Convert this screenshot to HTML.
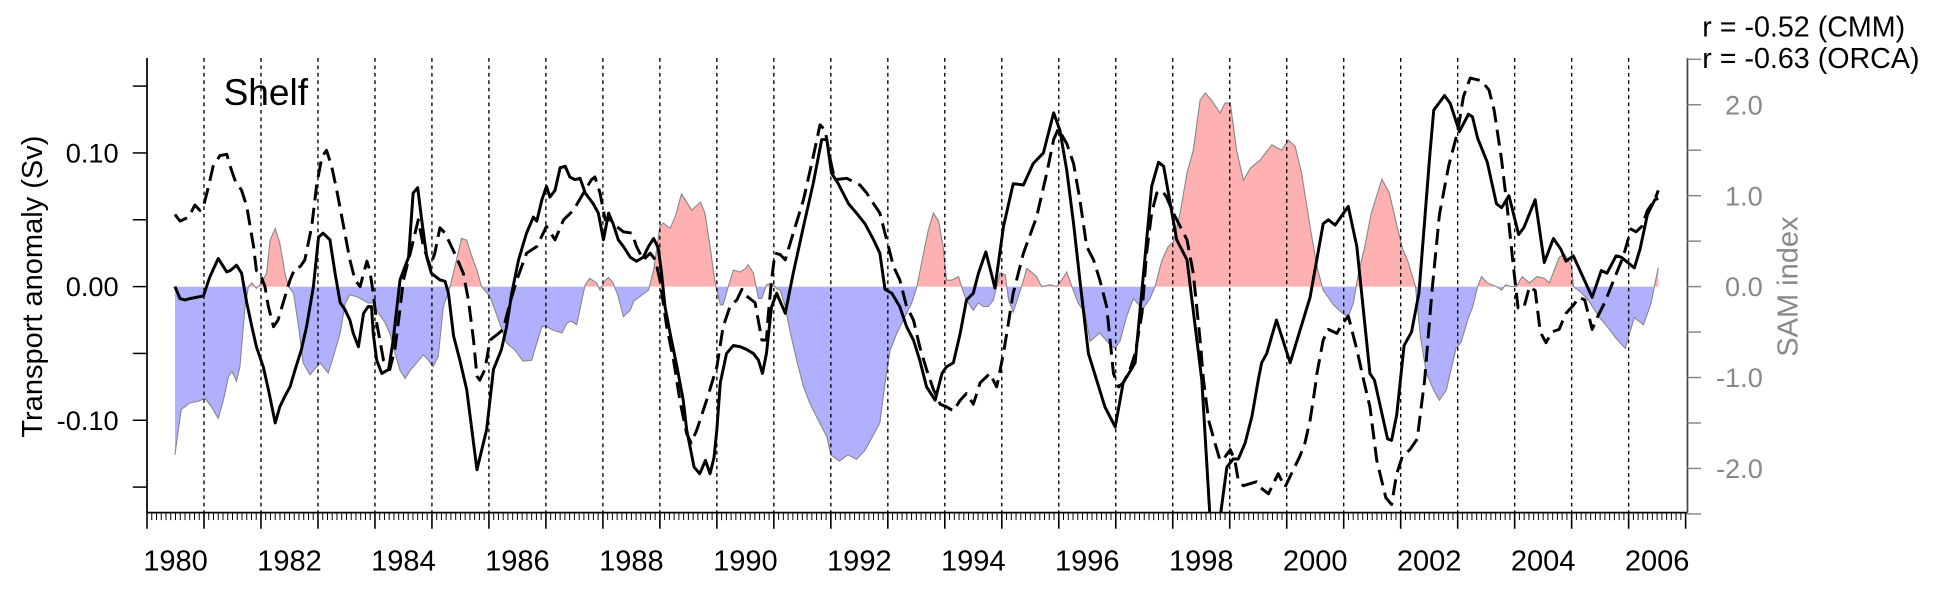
<!DOCTYPE html>
<html><head><meta charset="utf-8"><title>Shelf transport vs SAM</title>
<style>html,body{margin:0;padding:0;background:#fff;}svg{display:block;font-family:"Liberation Sans",sans-serif;}</style>
</head><body>
<svg id="chart" width="1937" height="590" viewBox="0 0 1568 477.6" preserveAspectRatio="none" xmlns="http://www.w3.org/2000/svg">
<defs>
<clipPath id="plotClip"><rect x="119" y="47" width="1247" height="368"/></clipPath>
<clipPath id="posClip"><rect x="119" y="0" width="1247" height="232"/></clipPath>
<clipPath id="negClip"><rect x="119" y="232" width="1247" height="200"/></clipPath>
</defs>
<g id="samLayer" clip-path="url(#plotClip)"></g>
<g id="gridLayer"></g>
<g id="lineLayer" clip-path="url(#plotClip)"></g>
<g id="axisLayer"></g>
<text x="181" y="85" font-size="30">Shelf</text>
<text transform="translate(34,232) rotate(-90)" text-anchor="middle" font-size="23.5">Transport anomaly (Sv)</text>
<text transform="translate(1455,232) rotate(-90)" text-anchor="middle" font-size="23.5" fill="#888">SAM index</text>
<text x="1378" y="29.5" font-size="23.2">r = -0.52 (CMM)</text>
<text x="1378" y="55" font-size="23.2">r = -0.63 (ORCA)</text>
</svg>
<script>
const cmmT=[1980.49,1980.58,1980.67,1980.75,1980.99,1981.10,1981.25,1981.40,1981.46,1981.57,1981.66,1981.75,1981.84,1981.92,1982.04,1982.13,1982.25,1982.33,1982.42,1982.51,1982.60,1982.71,1982.80,1982.92,1983.01,1983.09,1983.21,1983.30,1983.39,1983.47,1983.56,1983.62,1983.71,1983.80,1983.88,1983.94,1983.97,1984.03,1984.12,1984.24,1984.32,1984.44,1984.59,1984.67,1984.75,1984.82,1984.91,1984.99,1985.14,1985.23,1985.29,1985.38,1985.49,1985.61,1985.70,1985.79,1985.96,1986.08,1986.22,1986.31,1986.40,1986.52,1986.66,1986.78,1986.84,1986.93,1987.01,1987.07,1987.16,1987.25,1987.34,1987.42,1987.51,1987.60,1987.69,1987.83,1987.92,1988.01,1988.10,1988.18,1988.27,1988.36,1988.48,1988.59,1988.71,1988.80,1988.89,1988.97,1989.03,1989.09,1989.18,1989.30,1989.41,1989.47,1989.6,1989.7,1989.8,1989.88,1989.95,1990.00,1990.06,1990.17,1990.29,1990.41,1990.52,1990.64,1990.73,1990.80,1990.87,1990.96,1991.05,1991.20,1991.34,1991.52,1991.69,1991.84,1991.93,1992.01,1992.13,1992.31,1992.45,1992.60,1992.75,1992.86,1992.95,1993.07,1993.21,1993.33,1993.45,1993.56,1993.68,1993.83,1993.95,1994.03,1994.15,1994.27,1994.38,1994.50,1994.59,1994.72,1994.88,1995.03,1995.20,1995.38,1995.55,1995.73,1995.91,1996.02,1996.14,1996.26,1996.37,1996.52,1996.81,1996.99,1997.13,1997.34,1997.63,1997.75,1997.84,1998.07,1998.25,1998.51,1998.65,1998.72,1998.84,1998.95,1999.06,1999.15,1999.27,1999.39,1999.50,1999.56,1999.65,1999.82,2000.06,2000.41,2000.64,2000.73,2000.85,2001.08,2001.23,2001.46,2001.54,2001.77,2001.84,2001.93,2002.06,2002.19,2002.32,2002.51,2002.58,2002.77,2002.87,2003.03,2003.19,2003.26,2003.35,2003.52,2003.68,2003.77,2003.90,2004.07,2004.16,2004.36,2004.52,2004.68,2004.81,2004.90,2005.03,2005.36,2005.52,2005.62,2005.78,2005.87,2006.10,2006.20,2006.33,2006.46,2006.52];
const cmmV=[0.000,-0.009,-0.010,-0.009,-0.007,0.007,0.021,0.011,0.012,0.016,0.010,-0.012,-0.030,-0.045,-0.060,-0.077,-0.102,-0.090,-0.082,-0.075,-0.062,-0.047,-0.030,0.000,0.037,0.040,0.035,0.010,-0.012,-0.017,-0.025,-0.035,-0.045,-0.020,-0.015,-0.015,-0.035,-0.055,-0.065,-0.062,-0.040,0.005,0.022,0.070,0.074,0.050,0.022,0.010,0.005,0.004,-0.005,-0.037,-0.055,-0.077,-0.107,-0.137,-0.107,-0.062,-0.047,-0.030,-0.005,0.020,0.040,0.052,0.049,0.065,0.075,0.067,0.072,0.089,0.090,0.082,0.080,0.081,0.070,0.062,0.055,0.035,0.055,0.047,0.035,0.030,0.022,0.019,0.022,0.030,0.036,0.029,0.010,-0.015,-0.035,-0.060,-0.085,-0.107,-0.135,-0.140,-0.130,-0.140,-0.128,-0.107,-0.072,-0.050,-0.044,-0.045,-0.047,-0.050,-0.055,-0.065,-0.050,-0.015,-0.005,-0.020,0.010,0.045,0.077,0.110,0.110,0.085,0.077,0.062,0.055,0.047,0.035,0.025,-0.002,-0.005,-0.015,-0.030,-0.040,-0.055,-0.075,-0.085,-0.065,-0.060,-0.057,-0.035,-0.010,-0.005,0.010,0.026,-0.001,0.045,0.077,0.076,0.092,0.100,0.130,0.117,0.087,0.047,0.005,-0.050,-0.090,-0.105,-0.072,-0.057,0.075,0.093,0.090,0.035,0.020,-0.070,-0.170,-0.190,-0.170,-0.135,-0.129,-0.129,-0.117,-0.097,-0.070,-0.057,-0.050,-0.025,-0.057,-0.008,0.047,0.050,0.046,0.060,0.030,-0.065,-0.070,-0.114,-0.115,-0.096,-0.044,-0.034,-0.005,0.098,0.132,0.143,0.137,0.116,0.129,0.127,0.111,0.093,0.062,0.059,0.068,0.039,0.044,0.065,0.018,0.036,0.028,0.019,0.023,-0.008,0.012,0.010,0.023,0.022,0.014,0.028,0.054,0.065,0.066];
const orcaT=[1980.49,1980.58,1980.73,1980.84,1980.93,1980.99,1981.08,1981.16,1981.28,1981.40,1981.46,1981.54,1981.66,1981.75,1981.87,1981.92,1981.98,1982.07,1982.13,1982.22,1982.30,1982.39,1982.51,1982.60,1982.69,1982.77,1982.89,1982.98,1983.07,1983.15,1983.24,1983.33,1983.45,1983.56,1983.65,1983.74,1983.80,1983.86,1983.91,1983.97,1984.03,1984.15,1984.26,1984.35,1984.41,1984.50,1984.62,1984.76,1984.85,1984.97,1985.05,1985.14,1985.23,1985.32,1985.43,1985.55,1985.64,1985.73,1985.79,1985.84,1985.93,1986.02,1986.17,1986.25,1986.37,1986.49,1986.66,1986.84,1987.01,1987.16,1987.31,1987.48,1987.66,1987.80,1987.86,1987.95,1988.04,1988.13,1988.24,1988.36,1988.51,1988.59,1988.71,1988.83,1988.92,1989.00,1989.12,1989.24,1989.35,1989.47,1989.55,1989.65,1989.82,1990.00,1990.11,1990.23,1990.35,1990.44,1990.52,1990.67,1990.79,1990.87,1990.90,1990.96,1991.02,1991.11,1991.20,1991.34,1991.52,1991.69,1991.81,1991.90,1991.99,1992.07,1992.28,1992.51,1992.63,1992.75,1992.86,1992.98,1993.10,1993.21,1993.33,1993.45,1993.56,1993.68,1993.80,1993.92,1994.03,1994.15,1994.27,1994.38,1994.50,1994.62,1994.79,1994.91,1995.03,1995.20,1995.38,1995.61,1995.79,1995.91,1995.99,1996.14,1996.26,1996.37,1996.49,1996.61,1996.72,1996.84,1996.96,1997.05,1997.13,1997.25,1997.34,1997.46,1997.54,1997.63,1997.72,1997.81,1997.89,1998.01,1998.13,1998.25,1998.36,1998.48,1998.54,1998.63,1998.74,1998.83,1998.89,1999.01,1999.09,1999.15,1999.24,1999.39,1999.47,1999.53,1999.68,1999.77,1999.85,1999.97,2000.06,2000.23,2000.32,2000.41,2000.50,2000.53,2000.64,2000.73,2000.88,2000.99,2001.08,2001.23,2001.35,2001.46,2001.58,2001.74,2001.84,2001.93,2002.03,2002.16,2002.29,2002.42,2002.55,2002.68,2002.84,2003.00,2003.10,2003.22,2003.42,2003.55,2003.64,2003.77,2003.87,2003.97,2004.06,2004.16,2004.26,2004.36,2004.45,2004.55,2004.65,2004.78,2004.90,2005.03,2005.13,2005.23,2005.36,2005.45,2005.58,2005.74,2005.91,2006.04,2006.13,2006.23,2006.33,2006.46,2006.52];
const orcaV=[0.054,0.049,0.052,0.061,0.057,0.060,0.075,0.090,0.098,0.099,0.090,0.080,0.072,0.060,0.030,0.012,0.010,0.000,-0.015,-0.030,-0.025,-0.012,0.005,0.014,0.015,0.020,0.045,0.077,0.097,0.102,0.090,0.072,0.045,0.020,0.005,0.000,0.010,0.019,0.012,-0.005,-0.027,-0.055,-0.062,-0.047,-0.027,0.005,0.025,0.050,0.030,0.015,0.025,0.044,0.040,0.032,0.022,0.010,-0.010,-0.040,-0.067,-0.070,-0.062,-0.040,-0.035,-0.032,-0.012,0.005,0.025,0.030,0.045,0.035,0.050,0.057,0.070,0.080,0.082,0.070,0.050,0.050,0.045,0.041,0.040,0.030,0.020,0.025,0.020,0.005,-0.030,-0.055,-0.085,-0.110,-0.117,-0.107,-0.085,-0.060,-0.030,-0.015,-0.010,-0.002,-0.007,-0.012,-0.040,-0.040,-0.022,0.005,0.025,0.024,0.020,0.040,0.065,0.097,0.121,0.117,0.095,0.080,0.081,0.076,0.070,0.062,0.055,0.035,0.015,0.005,-0.015,-0.025,-0.045,-0.062,-0.077,-0.088,-0.090,-0.093,-0.085,-0.080,-0.088,-0.072,-0.065,-0.075,-0.050,-0.005,0.025,0.052,0.085,0.110,0.118,0.107,0.092,0.065,0.030,0.020,0.005,-0.015,-0.065,-0.075,-0.072,-0.062,-0.050,-0.020,0.025,0.055,0.070,0.072,0.067,0.055,0.045,0.035,0.010,-0.040,-0.070,-0.100,-0.117,-0.130,-0.129,-0.122,-0.130,-0.145,-0.149,-0.147,-0.146,-0.150,-0.155,-0.147,-0.140,-0.150,-0.142,-0.127,-0.117,-0.100,-0.075,-0.065,-0.040,-0.032,-0.035,-0.027,-0.022,-0.047,-0.070,-0.090,-0.130,-0.158,-0.163,-0.140,-0.127,-0.122,-0.114,-0.070,-0.003,0.054,0.090,0.116,0.142,0.156,0.154,0.147,0.132,0.095,0.059,0.018,-0.016,-0.016,0.000,-0.003,-0.034,-0.042,-0.034,-0.032,-0.020,-0.014,-0.008,-0.010,-0.032,-0.023,-0.012,0.005,0.023,0.043,0.041,0.045,0.057,0.065,0.072];
const samT=[1980.49,1980.6,1980.67,1980.75,1980.90,1981.02,1981.13,1981.25,1981.34,1981.43,1981.49,1981.57,1981.63,1981.72,1981.78,1981.84,1981.92,1982.01,1982.10,1982.16,1982.25,1982.33,1982.42,1982.48,1982.57,1982.66,1982.74,1982.86,1982.98,1983.04,1983.09,1983.18,1983.27,1983.39,1983.48,1983.56,1983.68,1983.80,1983.88,1983.97,1984.06,1984.18,1984.26,1984.35,1984.44,1984.53,1984.62,1984.73,1984.85,1984.94,1985.02,1985.11,1985.20,1985.32,1985.43,1985.52,1985.61,1985.70,1985.79,1985.87,1986.02,1986.17,1986.31,1986.46,1986.60,1986.75,1986.84,1986.93,1987.01,1987.13,1987.28,1987.37,1987.45,1987.54,1987.63,1987.69,1987.77,1987.89,1987.95,1988.04,1988.10,1988.18,1988.27,1988.36,1988.48,1988.54,1988.65,1988.80,1988.89,1989.00,1989.06,1989.18,1989.27,1989.38,1989.47,1989.56,1989.71,1989.79,1989.88,1989.97,1990.06,1990.11,1990.20,1990.29,1990.41,1990.50,1990.55,1990.64,1990.73,1990.79,1990.87,1990.96,1991.05,1991.11,1991.20,1991.28,1991.40,1991.52,1991.63,1991.78,1991.93,1992.0,1992.15,1992.3,1992.45,1992.6,1992.86,1992.95,1993.04,1993.16,1993.27,1993.42,1993.51,1993.65,1993.71,1993.80,1993.89,1993.97,1994.03,1994.12,1994.24,1994.33,1994.38,1994.50,1994.59,1994.68,1994.76,1994.85,1994.91,1994.97,1995.06,1995.12,1995.20,1995.29,1995.38,1995.44,1995.52,1995.61,1995.70,1995.85,1995.96,1996.05,1996.14,1996.23,1996.34,1996.46,1996.55,1996.72,1996.90,1996.99,1997.08,1997.19,1997.31,1997.40,1997.48,1997.60,1997.69,1997.81,1997.92,1998.01,1998.13,1998.25,1998.36,1998.48,1998.57,1998.68,1998.83,1998.92,1999.01,1999.12,1999.24,1999.36,1999.53,1999.74,1999.91,2000.03,2000.15,2000.26,2000.41,2000.53,2000.64,2000.82,2000.97,2001.08,2001.17,2001.26,2001.37,2001.48,2001.67,2001.80,2001.93,2002.03,2002.13,2002.26,2002.35,2002.45,2002.58,2002.68,2002.80,2002.97,2003.06,2003.19,2003.26,2003.35,2003.42,2003.52,2003.68,2003.77,2003.84,2003.94,2004.03,2004.13,2004.26,2004.39,2004.52,2004.61,2004.78,2004.87,2005.00,2005.03,2005.16,2005.29,2005.49,2005.65,2005.78,2005.94,2006.10,2006.26,2006.39,2006.52];
const samV=[-1.85,-1.35,-1.32,-1.28,-1.26,-1.23,-1.32,-1.45,-1.25,-0.99,-0.93,-1.04,-0.88,-0.22,0.00,0.04,-0.02,0.04,0.15,0.51,0.64,0.48,0.15,0.00,-0.07,-0.44,-0.84,-0.97,-0.88,-0.84,-0.88,-0.95,-0.77,-0.51,-0.18,-0.09,-0.11,-0.15,-0.18,-0.18,-0.29,-0.40,-0.51,-0.73,-0.92,-1.01,-0.92,-0.84,-0.75,-0.81,-0.88,-0.77,-0.22,0.00,0.29,0.53,0.51,0.33,0.18,0.00,-0.11,-0.37,-0.62,-0.70,-0.82,-0.81,-0.62,-0.44,-0.44,-0.48,-0.51,-0.40,-0.38,-0.42,-0.15,0.02,0.09,0.04,-0.04,0.07,0.10,0.04,-0.11,-0.33,-0.26,-0.16,-0.11,-0.04,0.18,0.66,0.70,0.64,0.77,1.02,0.93,0.84,0.93,0.81,0.44,0.04,-0.20,-0.20,0.00,0.18,0.16,0.20,0.24,0.15,-0.13,-0.13,0.02,0.04,-0.02,-0.04,-0.22,-0.48,-0.81,-1.10,-1.28,-1.47,-1.65,-1.85,-1.92,-1.85,-1.90,-1.80,-1.50,-1.06,-0.70,-0.51,-0.37,-0.18,0.00,0.44,0.62,0.81,0.72,0.44,0.07,0.07,0.11,-0.07,-0.15,-0.26,-0.18,-0.22,-0.22,-0.15,0.00,0.15,0.13,-0.15,-0.28,-0.11,0.07,0.20,0.16,0.11,0.00,0.02,0.00,0.07,0.16,0.00,-0.18,-0.29,-0.60,-0.51,-0.64,-0.68,-0.59,-0.33,-0.13,-0.20,-0.24,-0.13,0.00,0.29,0.44,0.49,0.81,1.25,1.50,2.05,2.13,2.05,1.91,2.02,2.02,1.50,1.17,1.30,1.39,1.56,1.50,1.61,1.54,1.25,0.66,0.22,-0.04,-0.20,-0.29,-0.33,-0.18,0.15,0.44,0.80,1.18,1.03,0.68,0.42,0.27,0.00,-0.57,-0.95,-1.14,-1.25,-1.14,-0.68,-0.61,-0.34,-0.23,0.00,0.11,0.04,0.00,-0.04,0.02,0.00,0.00,0.11,0.04,0.11,0.09,0.04,0.32,0.36,0.23,0.00,-0.06,-0.15,-0.34,-0.46,-0.57,-0.68,-0.34,-0.42,-0.19,0.21];
const yearLabels=[1980,1982,1984,1986,1988,1990,1992,1994,1996,1998,2000,2002,2004,2006];
const leftTickLabels=["0.10","0.00","-0.10"];
const leftTickValues=[0.10,0.00,-0.10];
const rightTickLabels=["2.0","1.0","0.0","-1.0","-2.0"];
const rightTickValues=[2,1,0,-1,-2];

const NS="http://www.w3.org/2000/svg";
const X=t=>119+(t-1980)*46.13;
const YL=v=>232-v*1082;
const YR=s=>232-s*73.6;
function mk(tag,attrs,parent){const e=document.createElementNS(NS,tag);for(const k in attrs)e.setAttribute(k,attrs[k]);parent.appendChild(e);return e;}
const sam=document.getElementById('samLayer'),grid=document.getElementById('gridLayer'),lines=document.getElementById('lineLayer'),ax=document.getElementById('axisLayer');

let d="M"+X(samT[0])+","+YR(0);
for(let i=0;i<samT.length;i++)d+=" L"+X(samT[i]).toFixed(2)+","+YR(samV[i]).toFixed(2);
d+=" L"+X(samT[samT.length-1])+","+YR(0)+" Z";
const pos=mk('path',{d:d,fill:'#ffb0b0','clip-path':'url(#posClip)'},sam);


const neg=mk('path',{d:d,fill:'#b0b0ff','clip-path':'url(#negClip)'},sam);


let od="";
for(let i=0;i<samT.length;i++)od+=(i?" L":"M")+X(samT[i]).toFixed(2)+","+YR(samV[i]).toFixed(2);
const outl=mk('path',{d:od,fill:'none',stroke:'#888','stroke-width':0.9},sam);



for(let y=1981;y<=2006;y++){
 const g=mk('line',{x1:X(y),x2:X(y),y1:47,y2:415,stroke:'#000','stroke-width':1.1,'stroke-dasharray':'3,3'},grid);
 
 
}

function pathOf(T,V){let s="";for(let i=0;i<T.length;i++)s+=(i?" L":"M")+X(T[i]).toFixed(2)+","+YL(V[i]).toFixed(2);return s;}
const cm=mk('path',{d:pathOf(cmmT,cmmV),fill:'none',stroke:'#000','stroke-width':2.4,'stroke-linejoin':'round'},lines);


const oc=mk('path',{d:pathOf(orcaT,orcaV),fill:'none',stroke:'#000','stroke-width':2.4,'stroke-dasharray':'13,6','stroke-linejoin':'round'},lines);



const la=mk('line',{x1:119,x2:119,y1:47,y2:415,stroke:'#000','stroke-width':1.4},ax);


const ba=mk('line',{x1:119,x2:1366,y1:415,y2:415,stroke:'#000','stroke-width':1.4},ax);


const ra=mk('line',{x1:1366,x2:1366,y1:47,y2:415,stroke:'#444','stroke-width':1.4},ax);


for(let v=-0.15;v<=0.151;v+=0.05){
 const tk=mk('line',{x1:107.5,x2:119,y1:YL(v),y2:YL(v),stroke:'#000','stroke-width':1.2},ax);
 
 
}
leftTickValues.forEach((v,i)=>{
 const t=mk('text',{x:96,y:YL(v)+7.8,'text-anchor':'end','font-size':22},ax);
 t.textContent=leftTickLabels[i];
 
 
});
for(let s=-2.5;s<=2.51;s+=0.5){
 const tk=mk('line',{x1:1366,x2:1377,y1:YR(s),y2:YR(s),stroke:'#888','stroke-width':1.2},ax);
 
 
}
rightTickValues.forEach((s,i)=>{
 const t=mk('text',{x:1427,y:YR(s)+7.8,'text-anchor':'end','font-size':22,fill:'#888'},ax);
 t.textContent=rightTickLabels[i];
 
 
});
for(let m=0;m<=27*12;m++){
 const major=(m%12===0);
 const xx=119+m*46.13/12;
 const tk=mk('line',{x1:xx,x2:xx,y1:415,y2:major?428:421,stroke:'#000','stroke-width':major?1.3:0.8},ax);
 
 
}
yearLabels.forEach(y=>{
 const t=mk('text',{x:X(y+0.5),y:462,'text-anchor':'middle','font-size':23.5},ax);
 t.textContent=String(y);
 
 
});
</script>
</body></html>
